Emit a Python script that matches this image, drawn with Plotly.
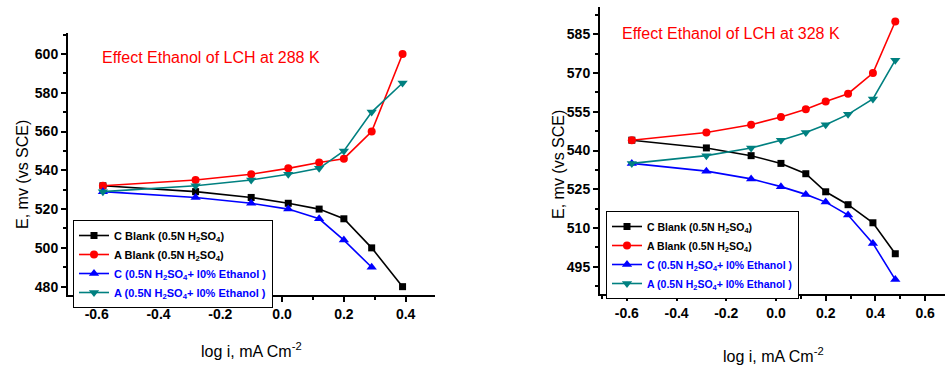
import plotly.graph_objects as go

# ---- data: left panel (288 K) ----
x_288 = [-0.58, -0.28, -0.10, 0.02, 0.12, 0.20, 0.29, 0.39]
c_blank_288 = [532, 529, 526, 523, 520, 515, 500, 480]
a_blank_288 = [532, 535, 538, 541, 544, 546, 560, 600]
x_288_c_eth = [-0.58, -0.28, -0.10, 0.02, 0.12, 0.20, 0.29]
c_eth_288 = [529, 526, 523, 520, 515, 504, 490]
a_eth_288 = [529, 532, 535, 538, 541, 550, 570, 585]

# ---- data: right panel (328 K) ----
x_328 = [-0.58, -0.28, -0.10, 0.02, 0.12, 0.20, 0.29, 0.39, 0.48]
c_blank_328 = [544, 541, 538, 535, 531, 524, 519, 512, 500]
a_blank_328 = [544, 547, 550, 553, 556, 559, 562, 570, 590]
c_eth_328 = [535, 532, 529, 526, 523, 520, 515, 504, 490]
a_eth_328 = [535, 538, 541, 544, 547, 550, 554, 560, 575]

# ---- tick labels ----
x_ticks_left = [-0.6, -0.4, -0.2, 0.0, 0.2, 0.4]
x_ticks_right = [-0.6, -0.4, -0.2, 0.0, 0.2, 0.4, 0.6]
y_ticks_left = [480, 500, 520, 540, 560, 580, 600]
y_ticks_right = [495, 510, 525, 540, 555, 570, 585]

names = [
    '<b>C Blank (0.5N H<sub>2</sub>SO<sub>4</sub>)</b>',
    '<b>A Blank (0.5N H<sub>2</sub>SO<sub>4</sub>)</b>',
    '<span style="color:#0000ff"><b>C (0.5N H<sub>2</sub>SO<sub>4</sub>+ l0% Ethanol )</b></span>',
    '<span style="color:#0000ff"><b>A (0.5N H<sub>2</sub>SO<sub>4</sub>+ l0% Ethanol )</b></span>',
]
colors = ['#000000', '#ff0000', '#0000ff', '#008080']
symbols = ['square', 'circle', 'triangle-up', 'triangle-down']
msizes = [7, 8, 9, 9]

FONT = "Liberation Sans, Arial, sans-serif"
W, H = 945, 370

fig = go.Figure()

left_sets = [(x_288, c_blank_288), (x_288, a_blank_288), (x_288_c_eth, c_eth_288), (x_288, a_eth_288)]
right_sets = [(x_328, c_blank_328), (x_328, a_blank_328), (x_328, c_eth_328), (x_328, a_eth_328)]

for i, (xs, ys) in enumerate(left_sets):
    fig.add_trace(go.Scatter(x=xs, y=ys, mode='lines+markers', name=names[i],
                             line=dict(color=colors[i], width=1.6),
                             marker=dict(symbol=symbols[i], size=msizes[i], color=colors[i]),
                             xaxis='x', yaxis='y', legend='legend'))
for i, (xs, ys) in enumerate(right_sets):
    fig.add_trace(go.Scatter(x=xs, y=ys, mode='lines+markers', name=names[i],
                             line=dict(color=colors[i], width=1.6),
                             marker=dict(symbol=symbols[i], size=msizes[i], color=colors[i]),
                             xaxis='x2', yaxis='y2', legend='legend2'))

def px_x(p):
    return p / W

def px_y(p):
    return 1 - p / H

def lab_x(vals):
    return ['%.1f' % v for v in vals]

def lab_y(vals):
    return ['%d' % v for v in vals]

tickfont = dict(family=FONT, size=14, color='black', weight=700)
minor_common = dict(ticks='outside', ticklen=3, tickcolor='black', tickwidth=1.5)
axcommon = dict(showline=True, linecolor='black', linewidth=2, ticks='outside',
                ticklen=5, tickwidth=1.5, tickcolor='black', showgrid=False,
                zeroline=False, tickfont=tickfont, mirror=False)

fig.update_layout(
    width=W, height=H,
    margin=dict(l=0, r=0, t=0, b=0),
    paper_bgcolor='white', plot_bgcolor='white',
    font=dict(family=FONT, color='black'),
    xaxis=dict(domain=[px_x(68), px_x(435)], range=[-0.693, 0.495], anchor='y',
               tickvals=x_ticks_left, ticktext=lab_x(x_ticks_left),
               minor=dict(dtick=0.1, tick0=0, **minor_common),
               **axcommon),
    yaxis=dict(domain=[px_y(295), px_y(33)], range=[475.7, 610.8], anchor='x',
               tickvals=y_ticks_left, ticktext=lab_y(y_ticks_left),
               minor=dict(dtick=10, tick0=480, **minor_common),
               **axcommon),
    xaxis2=dict(domain=[px_x(600), 1.0], range=[-0.708, 0.68], anchor='y2',
                tickvals=x_ticks_right, ticktext=lab_x(x_ticks_right),
                minor=dict(dtick=0.1, tick0=0, **minor_common),
                **axcommon),
    yaxis2=dict(domain=[px_y(294), px_y(7)], range=[484.4, 595.6], anchor='x2',
                tickvals=y_ticks_right, ticktext=lab_y(y_ticks_right),
                minor=dict(dtick=7.5, tick0=495, **minor_common),
                **axcommon),
    legend=dict(x=px_x(73), y=px_y(220), xanchor='left', yanchor='top',
                bordercolor='black', borderwidth=1, bgcolor='white',
                font=dict(family=FONT, size=11, color='black'),
                tracegroupgap=0, itemwidth=30),
    legend2=dict(x=px_x(606), y=px_y(211), xanchor='left', yanchor='top',
                 bordercolor='black', borderwidth=1, bgcolor='white',
                 font=dict(family=FONT, size=10.5, color='black'),
                 tracegroupgap=0, itemwidth=30),
    annotations=[
        dict(text='Effect Ethanol of LCH at 288 K', x=px_x(211), y=px_y(58), xref='paper', yref='paper',
             xanchor='center', yanchor='middle',
             showarrow=False, font=dict(family=FONT, size=16, color='#ff0000')),
        dict(text='Effect Ethanol of LCH at 328 K', x=px_x(731), y=px_y(34), xref='paper', yref='paper',
             xanchor='center', yanchor='middle',
             showarrow=False, font=dict(family=FONT, size=16, color='#ff0000')),
        dict(text='E, mv (vs SCE)', x=px_x(22), y=px_y(175), xref='paper', yref='paper', textangle=-90,
             xanchor='center', yanchor='middle',
             showarrow=False, font=dict(family=FONT, size=16, color='black')),
        dict(text='E, mv (vs SCE)', x=px_x(558), y=px_y(165), xref='paper', yref='paper', textangle=-90,
             xanchor='center', yanchor='middle',
             showarrow=False, font=dict(family=FONT, size=16, color='black')),
        dict(text='log i, mA Cm<sup>-2</sup>', x=px_x(251), y=px_y(350), xref='paper', yref='paper',
             xanchor='center', yanchor='middle',
             showarrow=False, font=dict(family=FONT, size=16, color='black')),
        dict(text='log i, mA Cm<sup>-2</sup>', x=px_x(773), y=px_y(355), xref='paper', yref='paper',
             xanchor='center', yanchor='middle',
             showarrow=False, font=dict(family=FONT, size=16, color='black')),
    ],
)

fig.write_html("out.html")
